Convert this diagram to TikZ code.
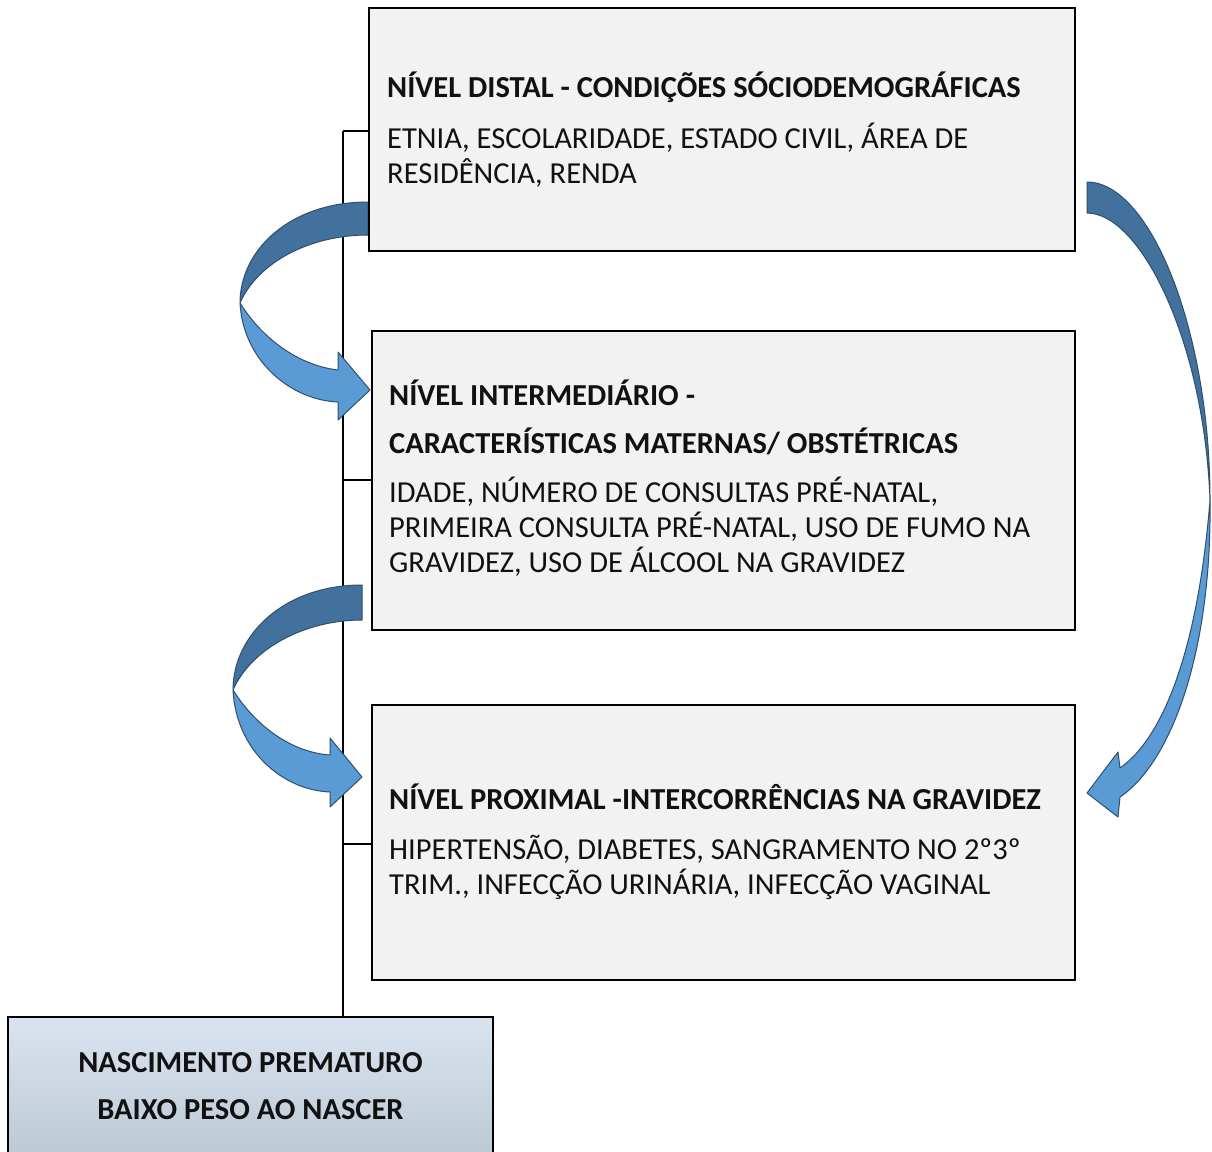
\documentclass[tikz,border=0pt]{standalone}
\usepackage{fontspec}
\setmainfont{Carlito}
\usetikzlibrary{shadings}
\definecolor{boxfill}{HTML}{F2F2F2}
\definecolor{ardark}{HTML}{41719C}
\definecolor{arlight}{HTML}{5B9BD5}
\definecolor{arline}{HTML}{2E4F6E}
\definecolor{btop}{HTML}{D9E4F0}
\definecolor{bbot}{HTML}{BCC7D4}
\definecolor{txt}{HTML}{111111}
\begin{document}
\begin{tikzpicture}[x=1pt,y=-1pt,
  box/.style={draw=black, line width=2.8pt, fill=boxfill, inner sep=0pt, outer sep=0pt},
  conn/.style={line width=2.8pt, draw=black},
  hd/.style={anchor=base west, inner sep=0pt, text=txt, font=\bfseries\fontsize{30.5}{36}\selectfont},
  bd/.style={anchor=base west, inner sep=0pt, text=txt, font=\fontsize{30.5}{36}\selectfont},
  hc/.style={anchor=base, inner sep=0pt, text=txt, font=\bfseries\fontsize{30.5}{36}\selectfont},
  ardk/.style={fill=ardark, draw=arline, line width=1pt, line join=round},
  arlt/.style={fill=arlight, draw=arline, line width=1pt, line join=round}]
\useasboundingbox (0,0) rectangle (1212,1151);
\fill[white] (0,0) rectangle (1212,1151);

% spine coordinates
\coordinate (s1) at (343,131);
\coordinate (s2) at (343,480);
\coordinate (s3) at (343,844);

% boxes (positions)
\path (722,129.5) node[box, minimum width=706pt, minimum height=243pt] (b1) {};
\path (723.5,480.5) node[box, minimum width=703pt, minimum height=299pt] (b2) {};
\path (723.5,842.5) node[box, minimum width=703pt, minimum height=275pt] (b3) {};
\path (250.5,1091) node[box, top color=btop, bottom color=bbot, minimum width=485pt, minimum height=148pt] (b4) {};

% spine connectors
\draw[conn] (s1) -- (s1 |- b4.north);
\draw[conn] (s1) -- (s1 -| b1.west);
\draw[conn] (s2) -- (s2 -| b2.west);
\draw[conn] (s3) -- (s3 -| b3.west);

% curved arrow 1 (box1 -> box2)
\draw[ardk] (368,202) .. controls (290,202) and (240,250) .. (240,303)
  .. controls (258,262) and (310,235) .. (368,235) -- cycle;
\draw[arlt] (240,303) .. controls (260,335) and (295,365) .. (338,370)
  -- (338,352) -- (370,390) -- (338,420) -- (338,402)
  .. controls (290,400) and (243,360) .. (240,303) -- cycle;

% curved arrow 2 (box2 -> box3)
\draw[ardk] (362,585) .. controls (284,585) and (233,635) .. (233,690)
  .. controls (251,649) and (304,620) .. (362,620) -- cycle;
\draw[arlt] (233,690) .. controls (253,722) and (288,752) .. (330,755)
  -- (330,738) -- (362,777) -- (330,807) -- (330,792)
  .. controls (282,790) and (236,750) .. (233,690) -- cycle;

% right curved arrow (box1 -> box3)
\draw[ardk] (1087,182) .. controls (1150,182) and (1210,330) .. (1210,500)
  .. controls (1204,340) and (1140,213) .. (1087,213) -- cycle;
\draw[arlt] (1210,500) .. controls (1212,650) and (1172,762) .. (1120,797)
  -- (1118,817) -- (1087,793) -- (1118,752) -- (1120,768)
  .. controls (1163,738) and (1198,650) .. (1210,500) -- cycle;

% redraw box borders on top
\draw[line width=2.8pt] (b1.north west) rectangle (b1.south east);
\draw[line width=2.8pt] (b2.north west) rectangle (b2.south east);
\draw[line width=2.8pt] (b3.north west) rectangle (b3.south east);

% texts box 1
\node[hd] (t1a) at (387,97) {NÍVEL DISTAL - CONDIÇÕES SÓCIODEMOGRÁFICAS};
\node[bd] (t1b) at (387,148) {ETNIA, ESCOLARIDADE, ESTADO CIVIL, ÁREA DE};
\node[bd] (t1c) at (387,183) {RESIDÊNCIA, RENDA};
% texts box 2
\node[hd] (t2a) at (389,405) {NÍVEL INTERMEDIÁRIO -};
\node[hd] (t2b) at (389,453) {CARACTERÍSTICAS MATERNAS/ OBSTÉTRICAS};
\node[bd] (t2c) at (389,502) {IDADE, NÚMERO DE CONSULTAS PRÉ-NATAL,};
\node[bd] (t2d) at (389,537) {PRIMEIRA CONSULTA PRÉ-NATAL, USO DE FUMO NA};
\node[bd] (t2e) at (389,572) {GRAVIDEZ, USO DE ÁLCOOL NA GRAVIDEZ};
% texts box 3
\node[hd] (t3a) at (389,809) {NÍVEL PROXIMAL -INTERCORRÊNCIAS NA GRAVIDEZ};
\node[bd] (t3b) at (389,859) {HIPERTENSÃO, DIABETES, SANGRAMENTO NO 2º3º};
\node[bd] (t3c) at (389,894) {TRIM., INFECÇÃO URINÁRIA, INFECÇÃO VAGINAL};
% texts box 4
\node[hc] (t4a) at (250.5,1072) {NASCIMENTO PREMATURO};
\node[hc] (t4b) at (250.5,1119) {BAIXO PESO AO NASCER};
\end{tikzpicture}
\end{document}
